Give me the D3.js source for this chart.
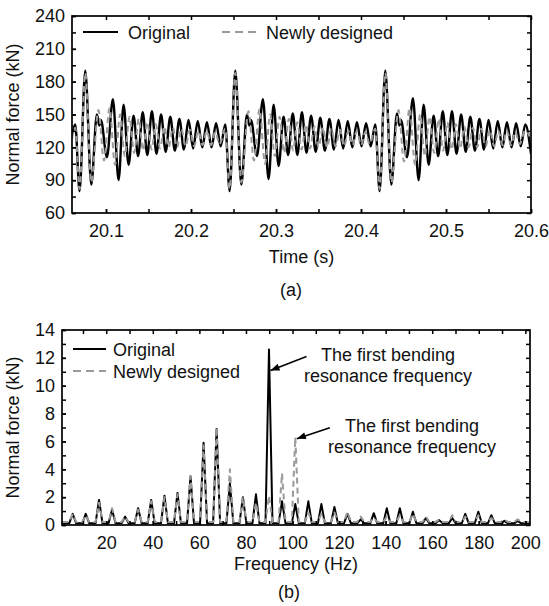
<!DOCTYPE html>
<html><head><meta charset="utf-8">
<script src="https://cdn.jsdelivr.net/npm/d3@7"></script>
<style>body{margin:0;background:#fff}svg{display:block}</style>
</head><body><svg id="c" width="549" height="606"></svg>
<script>
// ---------- (a) time history (local extrema) ----------
const origTime = [20.0600,20.0638,20.0689,20.0756,20.0827,20.0893,20.0921,20.0940,20.1011,20.1081,20.1148,20.1207,20.1266,20.1324,20.1378,20.1432,20.1486,20.1540,20.1594,20.1648,20.1702,20.1756,20.1810,20.1863,20.1917,20.1971,20.2025,20.2079,20.2133,20.2187,20.2241,20.2295,20.2349,
20.2403,20.2454,20.2521,20.2592,20.2658,20.2686,20.2705,20.2776,20.2846,20.2913,20.2972,20.3031,20.3089,20.3143,20.3197,20.3251,20.3305,20.3359,20.3413,20.3467,20.3521,20.3575,20.3628,20.3682,20.3736,20.3790,20.3844,20.3898,20.3952,20.4006,20.4060,20.4114,
20.4168,20.4219,20.4286,20.4357,20.4423,20.4451,20.4470,20.4541,20.4611,20.4678,20.4737,20.4796,20.4854,20.4908,20.4962,20.5016,20.5070,20.5124,20.5178,20.5232,20.5286,20.5340,20.5393,20.5447,20.5501,20.5555,20.5609,20.5663,20.5717,20.5771,20.5825,20.5879,20.5933,20.6000];
const origForce = [132,141,80,190,86,150,140,145,111,164,90,159,104,149,112,152,113,153,114,150,116,148,117,146,118,145,119,144,120,143,120,142,121,
141,80,190,86,150,140,145,112,164,91,159,103,148,113,151,113,152,115,149,116,147,117,146,118,145,119,144,120,143,121,142,121,
141,80,190,86,151,140,145,111,165,90,159,104,149,112,153,113,153,114,150,116,148,117,146,118,145,119,144,120,143,120,142,121,141,114];

const newTime = [20.0600,20.0638,20.0689,20.0756,20.0827,20.0911,20.0976,20.1041,20.1106,20.1166,20.1221,20.1276,20.1331,20.1386,20.1436,20.1486,20.1536,20.1586,20.1636,20.1686,20.1736,20.1786,20.1836,20.1886,20.1936,20.1986,20.2036,20.2086,20.2136,20.2186,20.2236,20.2286,20.2336,
20.2403,20.2454,20.2521,20.2592,20.2676,20.2741,20.2806,20.2871,20.2931,20.2986,20.3041,20.3096,20.3151,20.3201,20.3251,20.3301,20.3351,20.3401,20.3451,20.3501,20.3551,20.3601,20.3651,20.3701,20.3751,20.3801,20.3851,20.3901,20.3951,20.4001,20.4051,20.4101,
20.4168,20.4219,20.4286,20.4357,20.4441,20.4506,20.4571,20.4636,20.4696,20.4751,20.4806,20.4861,20.4916,20.4966,20.5016,20.5066,20.5116,20.5166,20.5216,20.5266,20.5316,20.5366,20.5416,20.5466,20.5516,20.5566,20.5616,20.5666,20.5716,20.5766,20.5816,20.5866,20.5933,20.6000];
const newForce = [128,138,82,188,88,154,108,156,104,150,112,148,115,146,117,143,118,141,119,139,120,138,120,137,121,136,121,135,122,135,122,134,123,
137,82,188,88,153,108,155,105,150,112,148,115,146,117,143,118,141,119,139,120,138,120,137,121,136,121,135,122,135,122,134,123,
137,82,188,88,154,107,156,104,150,112,148,115,146,117,143,118,141,119,139,120,138,120,137,121,136,121,135,122,135,122,134,123,136,126];

const timeTicks = [20.1,20.2,20.3,20.4,20.5,20.6];
const timeMinorTicks = [20.1,20.15,20.2,20.25,20.3,20.35,20.4,20.45,20.5,20.55,20.6];
const forceTicks = [60,90,120,150,180,210,240];
const forceMinorTicks = [60,75,90,105,120,135,150,165,180,195,210,225,240];

// ---------- (b) spectrum (peak amplitudes) ----------
const peakFreq = [5.6,11.2,16.9,22.5,28.1,33.7,39.3,45.0,50.6,56.2,61.8,67.4,73.1,78.7,84.3,89.9,95.5,101.2,106.8,112.4,118.0,123.6,129.3,134.9,140.5,146.1,151.7,157.3,163.0,168.6,174.2,179.8,185.4,191.0,196.7];
const origAmp = [0.8,0.8,1.8,1.1,0.6,1.2,1.8,2.1,2.3,3.5,5.9,6.9,3.0,2.0,2.2,12.6,1.7,1.5,1.7,1.5,1.3,0.8,0.4,0.85,1.2,1.2,0.95,0.5,0.35,0.5,0.8,0.95,0.7,0.3,0.3];
const newAmp  = [0.8,0.7,1.6,1.2,0.6,1.1,1.7,2.0,2.2,3.5,5.7,7.0,4.0,2.0,1.6,2.1,3.7,6.3,0.9,0.8,0.9,0.95,0.6,0.5,0.6,0.7,0.8,0.6,0.4,0.7,0.6,0.7,0.5,0.4,0.4];
const origFloor = 0.12, newFloor = 0.22;
const freqTicks = [20,40,60,80,100,120,140,160,180,200];
const freqMinorTicks = [10,20,30,40,50,60,70,80,90,100,110,120,130,140,150,160,170,180,190,200];
const ampTicks = [0,2,4,6,8,10,12,14];
const ampMinorTicks = [0,1,2,3,4,5,6,7,8,9,10,11,12,13,14];

// ---------- drawing ----------
const FONT = '"Liberation Sans", Arial, Helvetica, sans-serif';
const FS = 18;
const svg = d3.select('#c');
const BLACK = '#000', GRAY = '#9a9a9a';

function axes(x, y, xMaj, xMin, yMaj, yMin, fmtX) {
  const [x0, x1] = x.range(), [y0, y1] = y.range();
  const tk = 4;
  const g = svg.append('g');
  g.append('g').attr('transform', `translate(0,${y0})`).call(d3.axisBottom(x).tickValues(xMin).tickSize(-tk).tickFormat(''));
  g.append('g').attr('transform', `translate(0,${y0})`).call(d3.axisBottom(x).tickValues(xMaj).tickSize(-tk).tickPadding(11).tickFormat(fmtX));
  g.append('g').attr('transform', `translate(0,${y1})`).call(d3.axisTop(x).tickValues(xMin).tickSize(-tk).tickFormat(''));
  g.append('g').attr('transform', `translate(${x0},0)`).call(d3.axisLeft(y).tickValues(yMin).tickSize(-tk).tickFormat(''));
  g.append('g').attr('transform', `translate(${x0},0)`).call(d3.axisLeft(y).tickValues(yMaj).tickSize(-tk).tickPadding(7).tickFormat(d3.format('d')));
  g.append('g').attr('transform', `translate(${x1},0)`).call(d3.axisRight(y).tickValues(yMin).tickSize(-tk).tickFormat(''));
  g.selectAll('.domain').remove();
  g.selectAll('.tick line').attr('stroke', BLACK).attr('stroke-width', 1.5);
  g.selectAll('.tick text').attr('font-size', FS).attr('font-family', FONT).attr('fill', '#111');
  g.append('rect').attr('x', x0).attr('y', y1).attr('width', x1 - x0).attr('height', y0 - y1)
    .attr('fill', 'none').attr('stroke', BLACK).attr('stroke-width', 1.7);
}
function label(x, y, txt, opts = {}) {
  const t = svg.append('text').attr('x', x).attr('y', y).text(txt)
    .attr('font-family', FONT).attr('font-size', FS).attr('fill', '#111')
    .attr('text-anchor', opts.anchor || 'middle');
  if (opts.rotate) t.attr('transform', `rotate(-90,${x},${y})`);
  return t;
}
function clip(id, x, y) {
  const [x0, x1] = x.range(), [y0, y1] = y.range();
  svg.append('clipPath').attr('id', id).append('rect')
    .attr('x', x0).attr('y', y1).attr('width', x1 - x0).attr('height', y0 - y1);
}

// ----- chart (a)
const xa = d3.scaleLinear().domain([20.06, 20.6]).range([72, 531]);
const ya = d3.scaleLinear().domain([60, 240]).range([213, 16]);
clip('ca', xa, ya);
const lineA = d3.line().x(d => xa(d[0])).y(d => ya(d[1])).curve(d3.curveMonotoneX);
const origA = d3.zip(origTime, origForce);
const newA = d3.zip(newTime, newForce);
const ga = svg.append('g').attr('clip-path', 'url(#ca)');
ga.append('path').attr('d', lineA(origA)).attr('fill', 'none').attr('stroke', BLACK).attr('stroke-width', 2.4).attr('stroke-linejoin', 'round');
ga.append('path').attr('d', lineA(newA)).attr('fill', 'none').attr('stroke', GRAY).attr('stroke-width', 2).attr('stroke-dasharray', '6,4');
axes(xa, ya, timeTicks, timeMinorTicks, forceTicks, forceMinorTicks, d3.format('.1f'));
label(19, 114.5, 'Normal force (kN)', { rotate: true });
label(301.5, 263, 'Time (s)');
label(291, 296, '(a)');
// legend (a)
svg.append('line').attr('x1', 83).attr('x2', 118).attr('y1', 32).attr('y2', 32).attr('stroke', BLACK).attr('stroke-width', 2.2);
label(128, 38.5, 'Original', { anchor: 'start' });
svg.append('line').attr('x1', 222).attr('x2', 258).attr('y1', 32).attr('y2', 32).attr('stroke', GRAY).attr('stroke-width', 2).attr('stroke-dasharray', '8,5');
label(266, 38.5, 'Newly designed', { anchor: 'start' });

// ----- chart (b)
const xb = d3.scaleLinear().domain([1, 202]).range([62, 530]);
const yb = d3.scaleLinear().domain([0, 14]).range([525, 330]);
clip('cb', xb, yb);
const HW = 1.5; // half width of a drawn peak (Hz)
function spectrum(amps, floor) {
  const pts = [[xb.domain()[0], floor]];
  peakFreq.forEach((f, i) => { pts.push([f - HW, floor], [f, amps[i]], [f + HW, floor]); });
  pts.push([xb.domain()[1], floor]);
  return pts;
}
const lineB = d3.line().x(d => xb(d[0])).y(d => yb(d[1]));
const gb = svg.append('g').attr('clip-path', 'url(#cb)');
gb.append('path').attr('d', lineB(spectrum(origAmp, origFloor))).attr('fill', 'none').attr('stroke', BLACK).attr('stroke-width', 2).attr('stroke-linejoin', 'round');
gb.append('path').attr('d', lineB(spectrum(newAmp, newFloor))).attr('fill', 'none').attr('stroke', GRAY).attr('stroke-width', 2).attr('stroke-dasharray', '6,4').attr('stroke-linejoin', 'round');
axes(xb, yb, freqTicks, freqMinorTicks, ampTicks, ampMinorTicks, d3.format('d'));
label(19, 427.5, 'Normal force (kN)', { rotate: true });
label(296, 570, 'Frequency (Hz)');
label(289, 598, '(b)');
// legend (b)
svg.append('line').attr('x1', 73).attr('x2', 106).attr('y1', 349).attr('y2', 349).attr('stroke', BLACK).attr('stroke-width', 2.2);
label(113, 355.5, 'Original', { anchor: 'start' });
svg.append('line').attr('x1', 73).attr('x2', 106).attr('y1', 371).attr('y2', 371).attr('stroke', GRAY).attr('stroke-width', 2).attr('stroke-dasharray', '8,5');
label(113, 377.5, 'Newly designed', { anchor: 'start' });

// annotations
function arrow(x1, y1, x2, y2) {
  svg.append('line').attr('x1', x1).attr('y1', y1).attr('x2', x2).attr('y2', y2).attr('stroke', BLACK).attr('stroke-width', 1.6);
  const a = Math.atan2(y2 - y1, x2 - x1), L = 9, Wd = 3.5;
  const bx = x2 - L * Math.cos(a), by = y2 - L * Math.sin(a);
  const px = -Math.sin(a) * Wd, py = Math.cos(a) * Wd;
  svg.append('path').attr('d', `M${x2},${y2}L${bx + px},${by + py}L${bx - px},${by - py}Z`).attr('fill', BLACK);
}
const tip1 = [xb(89.9) + 1.5, yb(11.1)];
arrow(tip1[0] + 36, tip1[1] - 14, tip1[0], tip1[1]);
label(388, 361, 'The first bending');
label(388, 382, 'resonance frequency');
const tip2 = [xb(101.2) + 1.5, yb(6.2)];
arrow(tip2[0] + 33, tip2[1] - 11, tip2[0], tip2[1]);
label(412, 432, 'The first bending');
label(412, 453, 'resonance frequency');
</script></body></html>
